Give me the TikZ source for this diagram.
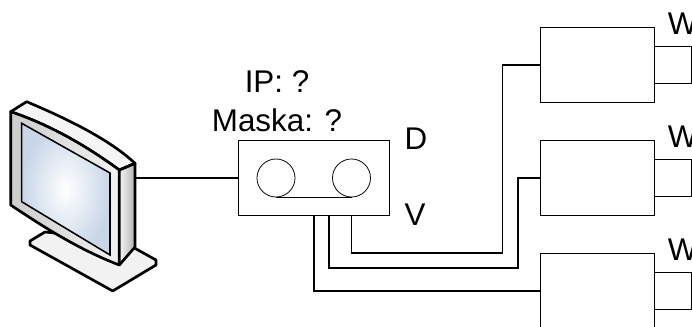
\documentclass[tikz,border=0pt]{standalone}
\usepackage{fontspec}
\setmainfont{Liberation Sans}
\definecolor{screenblue}{RGB}{200,214,232}
\tikzset{
  box/.style={draw=black, fill=white, line width=0.55pt, inner sep=0pt},
  wire/.style={draw=black, line width=1pt},
  label/.style={inner sep=0pt, font=\fontsize{22.3pt}{26pt}\selectfont},
  outline/.style={draw=black, line width=1.9pt, line join=round}
}
\begin{document}
\begin{tikzpicture}[x=0.025cm, y=-0.025cm]
    \useasboundingbox (0, 0) rectangle (692, 327);
    \clip (0, 0) rectangle (692, 327);
    % monitor
    \filldraw[outline, fill=gray!10] (45, 232) -- (30, 241) -- (30, 245) -- (112.7, 291) -- (156, 265) -- (156, 260) -- (120, 240) -- cycle;
    \path[left color=gray!8, right color=gray!60] (119.3, 170) -- (135, 163.3) -- (135, 247) -- (119.3, 265) -- cycle;
    \filldraw[outline, fill=gray!8] (10.7, 111.7) -- (26.7, 101.7) .. controls (70, 120) and (110, 140) .. (135, 163.3) -- (119.3, 170) .. controls (85, 145) and (50, 125) .. cycle;
    \filldraw[outline, left color=gray!40, right color=gray!10] (10.7, 111.7) .. controls (50, 125) and (85, 145) .. (119.3, 170) -- (119.3, 265) .. controls (80, 250) and (45, 228) .. (10.7, 205) -- cycle;
    \draw[outline] (119.3, 170) -- (135, 163.3) -- (135, 247) -- (119.3, 265);
    \shadedraw[draw=black, line width=1.1pt, inner color=white, outer color=screenblue] (21.7, 123.3) -- (110, 173) -- (110, 255) -- (21.7, 201.7) -- cycle;
    \node[inner sep=0pt, minimum size=0pt] (monitor) at (136, 178) {};
    % network device
    \node[box, minimum width=3.79cm, minimum height=1.875cm] (device) at (313.75, 178) {};
    \node[box, circle, minimum size=0.95cm] (portD) at (276, 178) {};
    \node[box, circle, minimum size=0.95cm] (portV) at (351.5, 178) {};
    \draw[line width=0.75pt] (portD.south) -- (portV.south);
    \node[label] (ip) at (277, 82) {IP: ?};
    \node[label] (mask) at (277, 120) {Maska: ?};
    \node[label] (d) at (416, 139) {D};
    \node[label] (v) at (415, 215) {V};
    % cameras
    \foreach \name/\y in {camA/65, camB/178, camC/291} {
      \node[box, minimum width=2.835cm, minimum height=1.875cm] (\name) at (597.25, \y) {};
      \node[box, minimum width=0.94cm, minimum height=0.94cm] (\name lens) at (672.75, \y) {};
      \node[label] (\name text) at (682.6, \y-41) {W};
    }
    % wires
    \coordinate (outA) at (351.5, 215.5);
    \coordinate (outB) at (329, 215.5);
    \coordinate (outC) at (314, 215.5);
    \coordinate (turnA) at (502.5, 253);
    \coordinate (turnB) at (518, 268);
    \draw[wire] (monitor) -- (device);
    \draw[wire] (outA) |- (turnA) |- (camA);
    \draw[wire] (outB) |- (turnB) |- (camB);
    \draw[wire] (outC) |- (camC);
  \end{tikzpicture}
\end{document}
